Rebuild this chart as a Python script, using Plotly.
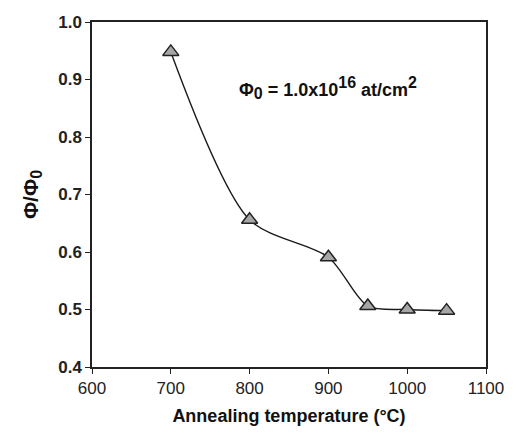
import plotly.graph_objects as go

temperature = [700, 800, 900, 950, 1000, 1050]
phi_ratio = [0.948, 0.656, 0.591, 0.506, 0.500, 0.498]
y_ticks = [0.4, 0.5, 0.6, 0.7, 0.8, 0.9, 1.0]
x_ticks = [600, 700, 800, 900, 1000, 1100]

FONT = "Liberation Sans, Arial"

fig = go.Figure()
fig.add_trace(go.Scatter(
    x=temperature, y=phi_ratio, mode="lines+markers",
    line=dict(color="#1a1a1a", width=1.4, shape="spline", smoothing=0.8),
    marker=dict(symbol="triangle-up", size=14, color="#a6a6a6",
                line=dict(color="#222222", width=1.5)),
    showlegend=False,
))

fig.add_annotation(
    x=900, y=0.885, xref="x", yref="y", showarrow=False,
    text=("<b>Φ<sub><span style='font-size:16px'>0</span></sub> = 1.0x10"
          "<sup><span style='font-size:16px'>16</span></sup> at/cm"
          "<sup><span style='font-size:16px'>2</span></sup></b>"),
    font=dict(family=FONT, size=18, color="#111111"),
)

fig.update_xaxes(
    range=[600, 1100], tickvals=x_ticks, ticks="outside", ticklen=5,
    tickcolor="#222", showline=True, linecolor="#222", linewidth=1.5,
    mirror=True, showgrid=False, zeroline=False,
    tickfont=dict(family=FONT, size=17, color="#222"),
    title=dict(text="<b>Annealing temperature (°C)</b>", standoff=12,
               font=dict(family=FONT, size=18, color="#111")),
)
fig.update_yaxes(
    range=[0.4, 1.0], tickvals=y_ticks, tickformat=".1f", ticks="outside",
    ticklen=5, tickcolor="#222", showline=True, linecolor="#222", linewidth=1.5,
    mirror=True, showgrid=False, zeroline=False,
    tickfont=dict(family=FONT, size=17, color="#222", weight="bold"),
    title=dict(text="<b>Φ/Φ<sub><span style='font-size:16px'>0</span></sub></b>",
               standoff=14, font=dict(family=FONT, size=21, color="#111")),
)
fig.update_layout(
    width=516, height=436,
    margin=dict(l=92, r=23, t=22, b=69),
    paper_bgcolor="white", plot_bgcolor="white",
)
fig.write_html("out.html")
